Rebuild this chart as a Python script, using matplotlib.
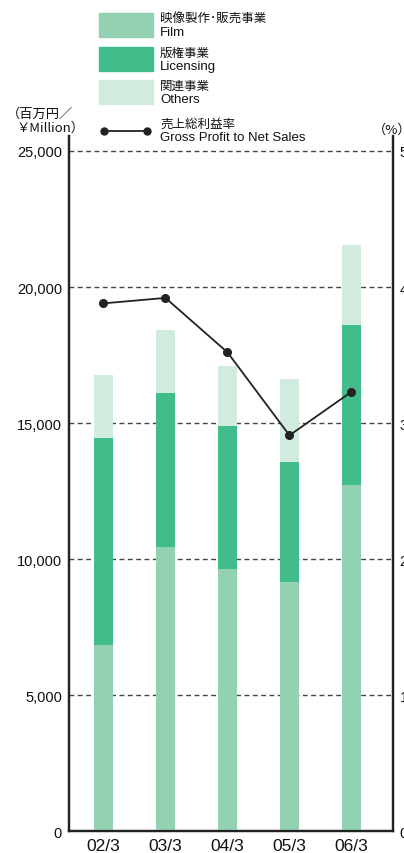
import matplotlib
matplotlib.use("Agg")
import matplotlib.pyplot as plt
from matplotlib.patches import Rectangle
from matplotlib.lines import Line2D

categories = ["02/3", "03/3", "04/3", "05/3", "06/3"]
film = [6850, 10450, 9640, 9170, 12730]
licensing = [7610, 5640, 5260, 4410, 5880]
others = [2320, 2340, 2210, 3050, 2950]
gross_margin = [38.8, 39.2, 35.2, 29.1, 32.3]
left_ticks = [0, 5000, 10000, 15000, 20000, 25000]
left_labels = ["0", "5,000", "10,000", "15,000", "20,000", "25,000"]
right_ticks = [0, 10, 20, 30, 40, 50]
right_labels = ["0", "10", "20", "30", "40", "50"]

c_film = "#93D1B3"
c_lic = "#43BC8C"
c_oth = "#D2EBDF"

FONT = ["Liberation Sans", "Noto Sans CJK JP", "DejaVu Sans"]
JFONT = ["Noto Sans CJK JP", "Liberation Sans", "DejaVu Sans"]
plt.rcParams['font.family'] = FONT

W, H = 404, 854
fig = plt.figure(figsize=(W / 100, H / 100), dpi=100)

def fx(px):
    return px / W

def fy(py):
    return 1 - py / H

ax = fig.add_axes([fx(69), fy(832.3), fx(392.7) - fx(69), fy(137) - fy(832.3)])
ax2 = ax.twinx()

x = list(range(len(categories)))
bw = 0.306
bot2 = [f + l for f, l in zip(film, licensing)]
ax.bar(x, film, width=bw, color=c_film, zorder=3)
ax.bar(x, licensing, width=bw, bottom=film, color=c_lic, zorder=3)
ax.bar(x, others, width=bw, bottom=bot2, color=c_oth, zorder=3)

ymax = 25550
ax.set_ylim(0, ymax)
ax.set_xlim(-0.556, 4.665)
for t in left_ticks[1:]:
    ax.axhline(t, color="#444444", lw=1.0, ls=(0, (3.5, 2.5)), zorder=1)

ax.set_yticks(left_ticks)
ax.set_yticklabels(left_labels, fontsize=10.5, color="#111111")
ax.set_xticks(x)
ax.set_xticklabels(categories, fontsize=12.5, color="#111111")
ax.tick_params(axis="y", length=0, pad=5)
ax.tick_params(axis="x", length=0, pad=5)

ax2.set_ylim(0, ymax / 500)
ax2.set_yticks(right_ticks)
ax2.set_yticklabels(right_labels, fontsize=10.5, color="#111111")
ax2.tick_params(axis="y", length=0, pad=5)
ax2.plot(x, gross_margin, color="#222222", lw=1.3, marker="o", ms=5.5, zorder=5)

for a in (ax, ax2):
    a.spines["top"].set_visible(False)
    for s in ("left", "right", "bottom"):
        a.spines[s].set_linewidth(1.6)
        a.spines[s].set_color("#222222")

# legend
for (top, col, jp, en) in [(14, c_film, "映像製作･販売事業", "Film"),
                           (48, c_lic, "版権事業", "Licensing"),
                           (81, c_oth, "関連事業", "Others")]:
    fig.patches.append(Rectangle((fx(99), fy(top + 24)), fx(54), fy(top) - fy(top + 24),
                                 transform=fig.transFigure, color=col))
    fig.text(fx(160), fy(top + 5), jp, fontsize=9, family=JFONT, va="center", color="#111111")
    fig.text(fx(160), fy(top + 19), en, fontsize=9.5, va="center", color="#111111")

fig.lines.append(Line2D([fx(104), fx(147)], [fy(131.5), fy(131.5)], transform=fig.transFigure,
                        color="#222222", lw=1.3, marker="o", ms=5))
fig.text(fx(160), fy(124), "売上総利益率", fontsize=9, family=JFONT, va="center", color="#111111")
fig.text(fx(160), fy(138), "Gross Profit to Net Sales", fontsize=9.5, va="center", color="#111111")

fig.text(fx(7), fy(114), "（百万円／", fontsize=9.5, family=JFONT, va="center", color="#111111")
fig.text(fx(17), fy(128), "￥Million）", fontsize=9.5, family=JFONT, va="center", color="#111111")
fig.text(fx(373), fy(130), "（%）", fontsize=9.5, family=JFONT, va="center", color="#111111")

fig.savefig("out.png", dpi=100)
